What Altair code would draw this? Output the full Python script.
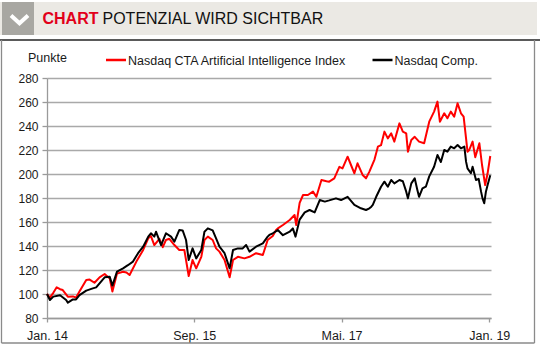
import altair as alt
import pandas as pd

series_names = ["Nasdaq CTA Artificial Intelligence Index", "Nasdaq Comp."]
series_colors = ["#ff0000", "#000000"]

ai_dates = [
    "2014-01-01", "2014-01-13", "2014-01-27", "2014-02-10", "2014-02-24", "2014-03-07",
    "2014-03-28", "2014-04-18", "2014-05-01", "2014-05-15", "2014-06-12", "2014-06-26",
    "2014-07-16", "2014-08-06", "2014-08-27", "2014-09-17", "2014-09-28", "2014-10-17",
    "2014-11-11", "2014-11-25", "2014-12-08", "2015-01-05", "2015-02-02", "2015-02-23",
    "2015-03-06", "2015-03-20", "2015-04-10", "2015-04-24", "2015-05-07", "2015-05-21",
    "2015-06-11", "2015-07-01", "2015-07-22", "2015-08-09", "2015-08-25", "2015-09-09",
    "2015-09-30", "2015-10-13", "2015-10-27", "2015-11-16", "2015-11-30", "2015-12-14",
    "2016-01-04", "2016-01-25", "2016-02-08", "2016-02-28", "2016-03-26", "2016-04-16",
    "2016-05-13", "2016-06-10", "2016-06-30", "2016-07-21", "2016-08-04", "2016-08-11",
    "2016-09-01", "2016-09-29", "2016-10-19", "2016-10-26", "2016-11-09", "2016-11-23",
    "2016-12-13", "2017-01-03", "2017-01-17", "2017-02-07", "2017-02-28", "2017-03-11",
    "2017-04-01", "2017-04-22", "2017-05-05", "2017-05-26", "2017-06-09", "2017-06-23",
    "2017-07-06", "2017-07-27", "2017-08-10", "2017-08-24", "2017-09-14", "2017-09-28",
    "2017-10-11", "2017-10-25", "2017-11-08", "2017-11-22", "2017-12-05", "2017-12-26",
    "2018-01-09", "2018-01-23", "2018-01-30", "2018-02-13", "2018-02-27", "2018-03-17",
    "2018-04-07", "2018-04-28", "2018-05-18", "2018-06-01", "2018-06-11", "2018-06-29",
    "2018-07-12", "2018-07-26", "2018-08-09", "2018-08-23", "2018-09-06", "2018-09-17",
    "2018-09-27", "2018-10-03", "2018-10-10", "2018-10-24", "2018-11-04", "2018-11-21",
    "2018-12-02", "2018-12-15", "2018-12-25", "2019-01-05",
]
ai_values = [
    100, 97, 101, 105.6, 104, 103.3,
    97.8, 98, 97, 102, 111.7, 112,
    109.4, 113.9, 116.7, 113, 102, 117,
    118.6, 118, 115.8, 127, 136.7, 146.4,
    148.3, 140.8, 146, 139, 145, 146,
    140.8, 136.7, 136.7, 115, 128.3, 121.4,
    131, 145, 147.8, 145, 138, 135.3,
    128.3, 113.9, 128.3, 131, 129.7, 131,
    134, 132.5, 145, 148.3, 153.3, 154.7,
    157.5, 161.7, 165.8, 157.5, 176, 182.5,
    182.5, 185.3, 181, 195, 194, 193.6,
    196.4, 206, 204.7, 214.4, 207.5, 200.6,
    208.9, 199.2, 196.4, 202, 212, 222.8,
    224, 235.3, 229.7, 233.9, 227, 242.2,
    235.3, 233.9, 218.6, 228.3, 231, 227,
    225.6, 243.6, 252, 260.3, 243.6, 250.6,
    246.4, 252, 247.8, 258.9, 250.6, 247.8,
    229.7, 218.6, 220, 227, 214, 225.6,
    207.5, 190.8, 200.6, 215,
]

comp_dates = [
    "2014-01-01", "2014-01-13", "2014-01-27", "2014-02-24", "2014-03-21", "2014-03-28",
    "2014-04-18", "2014-05-01", "2014-05-15", "2014-06-12", "2014-07-09", "2014-07-23",
    "2014-08-06", "2014-08-27", "2014-09-17", "2014-09-28", "2014-10-17", "2014-11-11",
    "2014-12-01", "2014-12-22", "2015-01-12", "2015-02-02", "2015-02-23", "2015-03-06",
    "2015-03-20", "2015-03-27", "2015-04-17", "2015-05-07", "2015-05-28", "2015-06-11",
    "2015-07-01", "2015-07-15", "2015-07-29", "2015-08-09", "2015-08-25", "2015-09-09",
    "2015-09-30", "2015-10-13", "2015-10-27", "2015-11-16", "2015-11-30", "2015-12-14",
    "2016-01-04", "2016-01-25", "2016-02-08", "2016-02-28", "2016-03-19", "2016-04-02",
    "2016-04-16", "2016-05-13", "2016-06-10", "2016-06-30", "2016-07-07", "2016-07-21",
    "2016-08-11", "2016-09-01", "2016-09-29", "2016-10-12", "2016-10-23", "2016-11-09",
    "2016-11-30", "2016-12-20", "2017-01-10", "2017-01-31", "2017-02-21", "2017-03-11",
    "2017-04-08", "2017-04-29", "2017-05-26", "2017-06-23", "2017-07-20", "2017-08-10",
    "2017-08-24", "2017-09-01", "2017-09-07", "2017-09-21", "2017-10-11", "2017-10-25",
    "2017-11-08", "2017-11-22", "2017-12-05", "2017-12-26", "2018-01-09", "2018-01-23",
    "2018-01-30", "2018-02-13", "2018-02-27", "2018-03-10", "2018-03-17", "2018-03-31",
    "2018-04-14", "2018-04-28", "2018-05-18", "2018-06-01", "2018-06-15", "2018-06-29",
    "2018-07-12", "2018-07-26", "2018-08-09", "2018-08-23", "2018-09-06", "2018-09-20",
    "2018-09-27", "2018-10-03", "2018-10-17", "2018-10-24", "2018-11-07", "2018-11-18",
    "2018-11-28", "2018-12-04", "2018-12-11", "2018-12-18", "2018-12-25", "2019-01-05",
]
comp_values = [
    100, 95, 97.8, 99, 95, 92.8,
    95.5, 95.5, 99, 102.8, 104.7, 105.5,
    108.9, 113.9, 114.4, 107, 118.6, 121.4,
    124, 127, 134, 139.4, 147.8, 150.6,
    147.8, 151.9, 140.8, 150.6, 147.8, 143.6,
    153.3, 153, 145, 128.3, 138, 129.7,
    136.7, 151.9, 154.7, 153, 146.4, 139.4,
    134, 121.4, 136.7, 138, 138, 140.8,
    135.3, 139.4, 142.2, 147.8, 149.2, 150.6,
    153.3, 149, 151.9, 154.7, 147.8, 162,
    168, 170, 168, 178.3, 177, 178,
    179.7, 178.3, 181, 174.2, 171.4, 170,
    171.4, 172.8, 174.2, 181, 189.4, 193.6,
    189.4, 195, 192.2, 195, 194, 185.3,
    179.7, 192.2, 196.4, 186.7, 181, 188,
    189.4, 198, 206, 215.8, 210, 220,
    218.6, 222.8, 221.4, 224.2, 221.4, 222.8,
    210.3, 204.7, 200.6, 206, 195, 196,
    185.3, 179.7, 175.6, 185.3, 190.8, 199,
]

y_ticks = [80, 100, 120, 140, 160, 180, 200, 220, 240, 260, 280]
title_bold = "CHART"
title_rest = "POTENZIAL WIRD SICHTBAR"
y_title = "Punkte"

FONT = "Liberation Sans"

df = pd.concat([
    pd.DataFrame({"date": ai_dates, "value": ai_values, "series": series_names[0]}),
    pd.DataFrame({"date": comp_dates, "value": comp_values, "series": series_names[1]}),
])
one = pd.DataFrame({"k": [0]})


def dt(y, m, d):
    return alt.DateTime(year=y, month=m, date=d, utc=True)


x_enc = alt.X(
    "date:T",
    scale=alt.Scale(type="utc", domain=[dt(2014, 1, 1), dt(2019, 1, 8)]),
    axis=alt.Axis(
        values=[dt(2014, 1, 1), dt(2015, 9, 1), dt(2017, 5, 1), dt(2019, 1, 1)],
        labelExpr="['Jan.','Feb.','März','Apr.','Mai.','Jun.','Jul.','Aug.','Sep.','Okt.','Nov.','Dez.'][utcmonth(datum.value)] + ' ' + utcFormat(datum.value, '%y')",
        grid=False, domain=True, domainColor="#9a9a9a", domainWidth=1.3,
        tickColor="#9a9a9a", tickSize=4, tickWidth=1.3,
        labelFont=FONT, labelFontSize=12.5, labelColor="#1a1a1a",
        labelPadding=7, labelFlush=False, title=None,
    ),
)
y_enc = alt.Y(
    "value:Q",
    scale=alt.Scale(domain=[80, 280], nice=False, zero=False),
    axis=alt.Axis(
        values=y_ticks, grid=True, gridColor="#a9a9a9", gridWidth=1.3,
        domain=True, domainColor="#9a9a9a", domainWidth=1.3,
        tickColor="#9a9a9a", tickSize=5, tickWidth=1.3,
        labelFont=FONT, labelFontSize=12, labelColor="#1a1a1a",
        labelPadding=4, title=None,
    ),
)
color_enc = alt.Color(
    "series:N",
    scale=alt.Scale(domain=series_names, range=series_colors),
    legend=None,
)

base = alt.Chart(df)
line_ai = base.transform_filter(alt.datum.series == series_names[0]).mark_line(
    strokeWidth=2, strokeJoin="round"
).encode(x=x_enc, y=y_enc, color=color_enc)
line_comp = base.transform_filter(alt.datum.series == series_names[1]).mark_line(
    strokeWidth=2, strokeJoin="round"
).encode(x=x_enc, y=y_enc, color=color_enc)

deco = alt.Chart(one)
header_bar = deco.mark_rect(color="#ebe9e4").encode(
    x=alt.value(-47), x2=alt.value(490), y=alt.value(-76), y2=alt.value(-43))
icon_box = deco.mark_rect(color="#a8a7a2").encode(
    x=alt.value(-45), x2=alt.value(-13), y=alt.value(-76), y2=alt.value(-43))
chevron = deco.mark_point(
    shape="M-1,-0.45L0,0.45L1,-0.45", filled=False, stroke="white",
    strokeWidth=4, size=289, opacity=1,
).encode(x=alt.value(-27.5), y=alt.value(-58.6))
title1 = deco.mark_text(
    text=title_bold, font=FONT, fontSize=16, fontWeight="bold", color="#e2001a",
    align="left", baseline="alphabetic",
).encode(x=alt.value(-4.5), y=alt.value(-54.5))
title2 = deco.mark_text(
    text=title_rest, font=FONT, fontSize=16, color="#111111",
    align="left", baseline="alphabetic",
).encode(x=alt.value(55.5), y=alt.value(-54.5))
underline = deco.mark_rule(color="#5a5a5a", strokeWidth=2).encode(
    x=alt.value(-47), x2=alt.value(493), y=alt.value(-38))
box_left = deco.mark_rule(color="#8a8a8a", strokeWidth=1.3).encode(
    x=alt.value(-45.5), y=alt.value(-38), y2=alt.value(265))
box_right = deco.mark_rule(color="#8a8a8a", strokeWidth=1.3).encode(
    x=alt.value(487.5), y=alt.value(-38), y2=alt.value(265))
box_bottom = deco.mark_rule(color="#8a8a8a", strokeWidth=1.3).encode(
    x=alt.value(-45.5), x2=alt.value(487.5), y=alt.value(265))
ytitle = deco.mark_text(
    text=y_title, font=FONT, fontSize=12.5, color="#1a1a1a",
    align="left", baseline="middle",
).encode(x=alt.value(-19), y=alt.value(-20.5))

leg1_line = deco.mark_rule(color=series_colors[0], strokeWidth=2.5).encode(
    x=alt.value(59), x2=alt.value(79), y=alt.value(-18))
leg1_text = deco.mark_text(
    text=series_names[0], font=FONT, fontSize=12.5, color="#1a1a1a",
    align="left", baseline="middle",
).encode(x=alt.value(81), y=alt.value(-17))
leg2_line = deco.mark_rule(color=series_colors[1], strokeWidth=2.5).encode(
    x=alt.value(325.5), x2=alt.value(345.5), y=alt.value(-18))
leg2_text = deco.mark_text(
    text=series_names[1], font=FONT, fontSize=12.5, color="#1a1a1a",
    align="left", baseline="middle",
).encode(x=alt.value(347.5), y=alt.value(-17))

chart = alt.layer(
    header_bar, icon_box, chevron, title1, title2, underline,
    box_left, box_right, box_bottom, ytitle,
    line_ai, line_comp,
    leg1_line, leg1_text, leg2_line, leg2_text,
).properties(
    width=444, height=240,
    padding={"left": 47, "top": 78, "right": 49, "bottom": 32},
    autosize=alt.AutoSizeParams(type="none"),
    background="white",
).configure_view(strokeWidth=0)

chart.save("out.html", embed_options={"renderer": "svg", "actions": False})
